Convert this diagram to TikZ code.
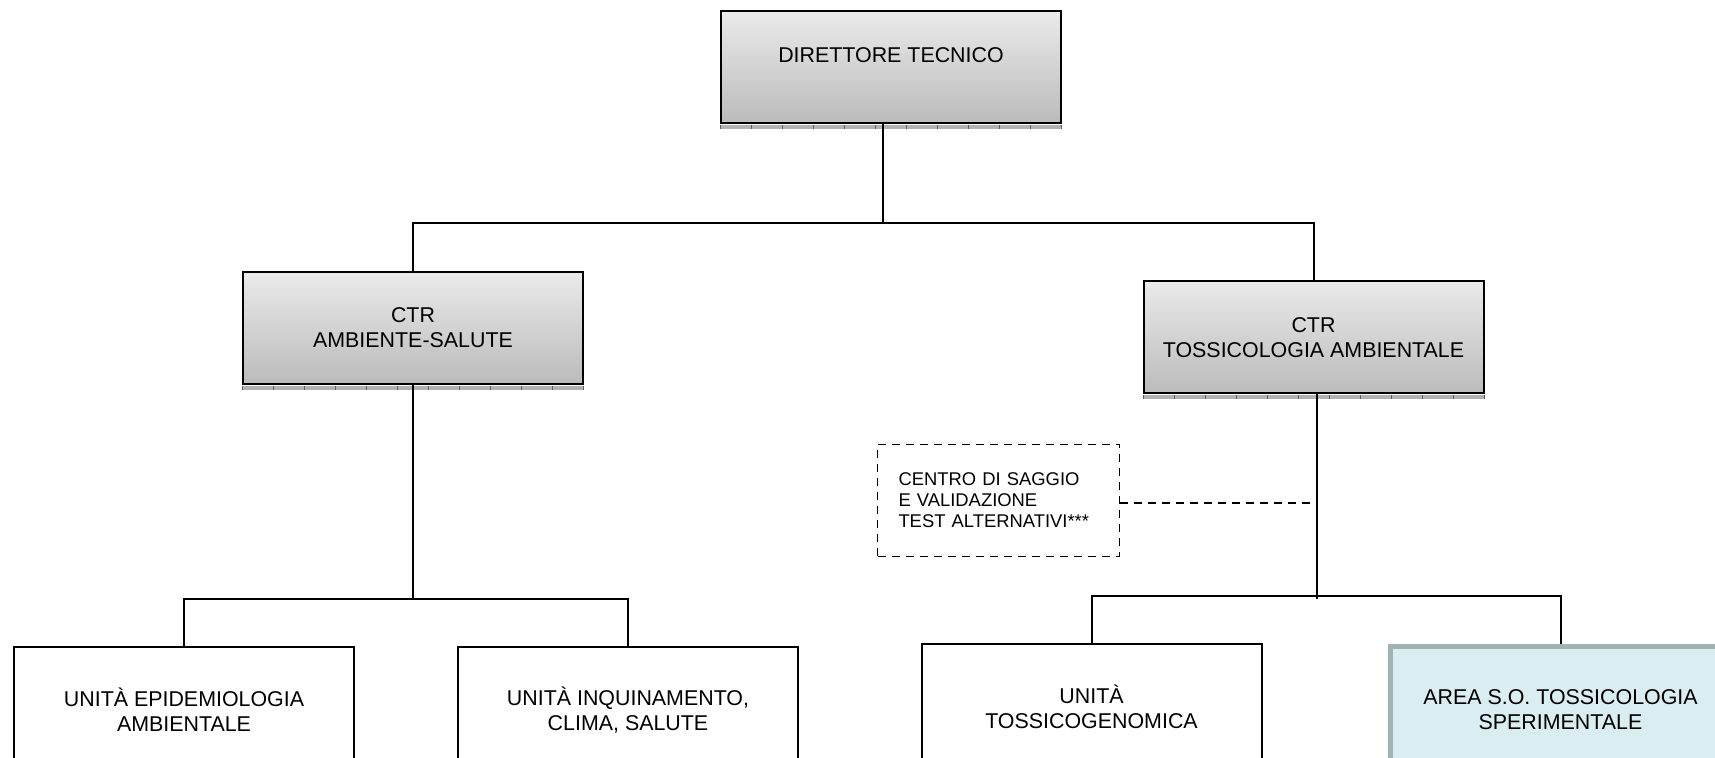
\documentclass[tikz,border=0pt]{standalone}
\usepackage{fontspec}
\setmainfont{Liberation Sans}
\usetikzlibrary{positioning}

\definecolor{boxtop}{HTML}{EAEAEA}
\definecolor{boxbot}{HTML}{BBBBBB}
\definecolor{areafill}{HTML}{DAEDF0}
\definecolor{areaedge}{HTML}{A2B3B3}

\tikzset{
  gradbox/.style={draw, line width=1pt, top color=boxtop, bottom color=boxbot,
    minimum width=170pt, minimum height=56pt, align=center,
    font=\fontsize{10.7}{12.5}\selectfont},
  unitbox/.style={draw, line width=1pt, fill=white, minimum width=170pt,
    minimum height=63pt, align=center, font=\fontsize{10.7}{12.5}\selectfont},
  areabox/.style={unitbox, draw=areaedge, fill=areafill, line width=2.5pt},
  testbox/.style={draw, line width=0.9pt, dash pattern=on 4pt off 3pt,
    text width=100pt, inner xsep=10.5pt, minimum height=56pt, align=left,
    font=\fontsize{9.2}{10.5}\selectfont},
  link/.style={line width=1pt},
  testlink/.style={line width=0.9pt, dash pattern=on 4pt off 3pt},
}

\begin{document}
\begin{tikzpicture}[x=0.5pt,y=-0.5pt]

% \draw[step=50,gray,very thin] (0,0) grid (1715,758);
        \useasboundingbox (0,0) rectangle (1715,758);
        \clip (0,0) rectangle (1715,758);

        \node[gradbox] (dir) at (891,67.5) {};
        \node[font=\fontsize{10.7}{12.5}\selectfont] (dirlabel) at ([yshift=6pt]dir.center) {DIRETTORE TECNICO};
        \node[gradbox] (amb) at (413,328) {CTR\\AMBIENTE-SALUTE};
        \node[gradbox] (tox) at (1313.5,337.5) {CTR\\TOSSICOLOGIA AMBIENTALE};
        \node[testbox] (csv) at (998.5,500.5) {CENTRO DI SAGGIO\\E VALIDAZIONE\\TEST ALTERNATIVI***};

        \node[unitbox] (epi) at (184,710) {UNIT\`A EPIDEMIOLOGIA\\AMBIENTALE};
        \node[unitbox] (inq) at (628,710) {UNIT\`A INQUINAMENTO,\\CLIMA, SALUTE};
        \node[unitbox] (gen) at (1091.5,707) {UNIT\`A\\TOSSICOGENOMICA};
        \node[areabox] (area) at (1560.5,709.5) {AREA S.O. TOSSICOLOGIA\\SPERIMENTALE};

        % shadow bands
        \foreach \b in {dir,amb,tox} {
            \fill[gray!60] ([yshift=-0.5pt]\b.south west) rectangle ([yshift=-2.5pt]\b.south east);
            \draw[gray!75!black, line width=2pt, dash pattern=on 0.5pt off 15pt] ([yshift=-1.5pt]\b.south west) -- ([yshift=-1.5pt]\b.south east);
        }

        \coordinate (j1) at (883,223);
        \coordinate (j2) at (413,599);
        \coordinate (j3) at (1317,596);

        \draw[link] (dir.south -| j1) -- (j1);
        \draw[link] (amb.north) |- (j1) -| (tox.north);

        \draw[link] (amb.south) -- (j2);
        \draw[link] (epi.north) |- (j2) -| (inq.north);

        \draw[link] (tox.south -| j3) -- ([yshift=-1.5pt]j3);
        \draw[link] (gen.north) |- (j3) -| (area.north);
        \draw[testlink] ([yshift=-1.2pt]csv.east) -- ([yshift=-1.2pt]csv.east -| j3);

    \end{tikzpicture}
\end{document}
